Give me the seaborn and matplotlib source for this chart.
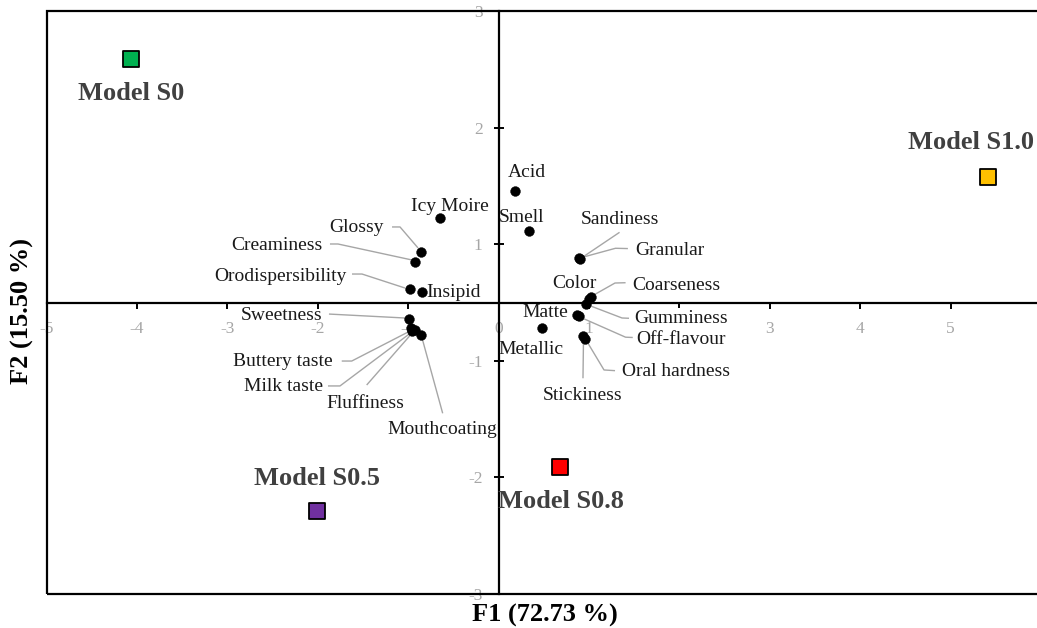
import numpy as np
import pandas as pd
import matplotlib
matplotlib.use("Agg")
import matplotlib.pyplot as plt
import seaborn as sns
from matplotlib.patches import Rectangle
from matplotlib.ticker import FuncFormatter, FixedLocator

# ---------------- data ----------------
attr_names = ["Acid", "Smell", "Icy Moire", "Glossy", "Creaminess", "Orodispersibility",
              "Insipid", "Sweetness", "Buttery taste", "Milk taste", "Fluffiness",
              "Mouthcoating", "Sandiness", "Granular", "Color", "Coarseness",
              "Gumminess", "Matte", "Off-flavour", "Metallic", "Oral hardness", "Stickiness"]
attr_f1 = [0.188, 0.334, -0.647, -0.857, -0.924, -0.979,
           -0.850, -0.985, -0.973, -0.957, -0.924,
           -0.852, 0.890, 0.907, 1.001, 1.023,
           0.968, 0.865, 0.890, 0.478, 0.957, 0.940]
attr_f2 = [0.959, 0.616, 0.722, 0.436, 0.350, 0.113,
           0.093, -0.142, -0.219, -0.244, -0.236,
           -0.283, 0.379, 0.375, 0.026, 0.047,
           -0.017, -0.107, -0.120, -0.216, -0.317, -0.287]

model_names = ["Model S0", "Model S1.0", "Model S0.8", "Model S0.5"]
model_f1 = [-4.065, 5.415, 0.680, -2.003]
model_f2 = [2.086, 1.079, -1.413, -1.785]
model_colors = ["#00B050", "#FFC000", "#FF0000", "#7030A0"]

x_ticks = [-5, -4, -3, -2, -1, 0, 1, 2, 3, 4, 5]
y_ticks = [-2.5, -1.5, -0.5, 0.5, 1.5, 2.5]
x_title = "F1 (72.73 %)"
y_title = "F2 (15.50 %)"

# ---------------- layout (pixel offsets from the point) ----------------
# name: (dx, dy, ha, leader path as list of (dx, dy) or None)   dy positive = down
label_layout = {
    "Acid": (11.5, -18, "center", None),
    "Smell": (-7, -13, "center", None),
    "Icy Moire": (9.5, -12, "center", None),
    "Glossy": (-37, -24, "right", [(-29, -24.7), (-21, -24.7), (-3, -3.7)]),
    "Creaminess": (-92, -16, "right", [(-85, -17.7), (-77, -17.7), (-3, -1.7)]),
    "Orodispersibility": (-63.3, -13.3, "right", [(-58, -15.3), (-48, -15.3), (-5, -1.3)]),
    "Insipid": (5, 1, "left", None),
    "Sweetness": (-86.8, -3.3, "right", [(-80.5, -5), (-3.5, -1)]),
    "Buttery taste": (-77.5, 33, "right", [(-68.8, 33), (-58.8, 33), (-0.5, 3)]),
    "Milk taste": (-89.3, 55.7, "right", [(-84, 55), (-72, 55), (0, 1)]),
    "Fluffiness": (-50, 73.3, "center", [(-48.3, 55), (-1, 1)]),
    "Mouthcoating": (20.7, 94.5, "center", [(21.2, 77.8), (0, 0.5)]),
    "Sandiness": (41, -39.3, "center", [(40.6, -26), (2, 0)]),
    "Granular": (55, -8.5, "left", [(47.4, -10.2), (35, -10.5), (2, -1.5)]),
    "Color": (-14.5, -15.5, "center", None),
    "Coarseness": (41, -12, "left", [(34.6, -14.3), (24, -14), (1, -1)]),
    "Gumminess": (48.5, 14.5, "left", [(43, 13.8), (36, 13.5), (2, 0.5)]),
    "Matte": (-8.7, -2.7, "right", None),
    "Off-flavour": (57, 23, "left", [(53.8, 21), (46.6, 20.7), (2, 1)]),
    "Metallic": (-11, 21.6, "center", None),
    "Oral hardness": (37, 32.2, "left", [(30, 31.2), (19, 30.5), (1, 0.5)]),
    "Stickiness": (-0.5, 59.7, "center", [(-0.5, 42.3), (0, 5)]),
}
masked_labels = {"Gumminess", "Off-flavour"}
model_label_offsets = {
    "Model S0": (0, 34),
    "Model S1.0": (-17, -34),
    "Model S0.8": (1, 34.4),
    "Model S0.5": (0, -31.7),
}

# ---------------- style ----------------
sns.set_theme(style="white")
plt.rcParams["font.family"] = ["Liberation Serif", "DejaVu Serif"]
plt.rcParams["axes.unicode_minus"] = False

W, H = 1037, 628
DPI = 100
fig = plt.figure(figsize=(W / DPI, H / DPI), dpi=DPI)
fig.patch.set_facecolor("white")

# axes: x -5..6 (right edge cropped), y -2.5..2.5
left_px, right_px, top_px, bottom_px = 46.5, 1040.9, 11.0, 594.0
ax = fig.add_axes([left_px / W, (H - bottom_px) / H,
                   (right_px - left_px) / W, (bottom_px - top_px) / H])
ax.set_xlim(-5, 6)
ax.set_ylim(-2.5, 2.5)

# frame
frame = Rectangle((0, 0), 1, 1, transform=ax.transAxes, fill=False,
                  edgecolor="black", linewidth=1.6, clip_on=False, zorder=5)
ax.add_patch(frame)

for s in ["top", "right"]:
    ax.spines[s].set_visible(False)
for s in ["left", "bottom"]:
    ax.spines[s].set_position(("data", 0))
    ax.spines[s].set_color("black")
    ax.spines[s].set_linewidth(1.6)
    ax.spines[s].set_zorder(1)

def excel_round(v, pos=None):
    r = int(np.sign(v) * np.floor(abs(v) + 0.5))
    return str(r)

ax.xaxis.set_major_locator(FixedLocator(x_ticks))
ax.yaxis.set_major_locator(FixedLocator(y_ticks))
ax.xaxis.set_major_formatter(FuncFormatter(excel_round))
ax.yaxis.set_major_formatter(FuncFormatter(excel_round))
tick_gray = "#A6A6A6"
ax.tick_params(axis="x", direction="out", length=4, width=1.4, color="black",
               pad=9.5, labelsize=12.5, labelcolor=tick_gray, bottom=True)
ax.tick_params(axis="y", direction="inout", length=7, width=1.4, color="black",
               pad=8, labelsize=12.5, labelcolor=tick_gray, left=True)
ax.grid(False)

# ---------------- marks ----------------
attr_df = pd.DataFrame({"F1": attr_f1, "F2": attr_f2, "name": attr_names})
model_df = pd.DataFrame({"F1": model_f1, "F2": model_f2, "model": model_names})

sns.scatterplot(data=attr_df, x="F1", y="F2", color="black", s=50,
                edgecolor="black", linewidth=0.3, ax=ax, zorder=4, legend=False)
sns.scatterplot(data=model_df, x="F1", y="F2", hue="model", hue_order=model_names,
                palette=model_colors, marker="s", s=135, edgecolor="black",
                linewidth=1.3, ax=ax, zorder=4, legend=False)
ax.set_xlabel("")
ax.set_ylabel("")

fig.canvas.draw()
to_px = ax.transData
inv = ax.transData.inverted()

def px_offset(x, y, dx, dy):
    p = to_px.transform((x, y))
    return inv.transform((p[0] + dx, p[1] - dy))

lead_color = "#A6A6A6"
text_color = "#1a1a1a"
for name, x, y in zip(attr_names, attr_f1, attr_f2):
    dx, dy, ha, path = label_layout[name]
    bbox = None
    if name in masked_labels:
        bbox = dict(facecolor="white", edgecolor="none", pad=1.5)
    ax.annotate(name, xy=(x, y), xytext=(dx * 0.72, -dy * 0.72),
                textcoords="offset points", ha=ha, va="center",
                fontsize=14, color=text_color, zorder=3, bbox=bbox)
    if path:
        pts = np.array([px_offset(x, y, ox, oy) for ox, oy in path])
        ax.plot(pts[:, 0], pts[:, 1], color=lead_color, lw=1.0, zorder=2,
                solid_capstyle="butt")

for name, x, y in zip(model_names, model_f1, model_f2):
    dx, dy = model_label_offsets[name]
    ax.annotate(name, xy=(x, y), xytext=(dx * 0.72, -dy * 0.72),
                textcoords="offset points", ha="center", va="center",
                fontsize=19, fontweight="bold", color="#404040", zorder=3)

# axis titles
fig.text(545 / W, 1 - 615 / H, x_title, ha="center", va="center",
         fontsize=19, fontweight="bold", color="black")
fig.text(22.5 / W, 1 - 311 / H, y_title, ha="center", va="center",
         rotation=90, fontsize=19, fontweight="bold", color="black")

fig.savefig("out.png", dpi=DPI, facecolor="white")
